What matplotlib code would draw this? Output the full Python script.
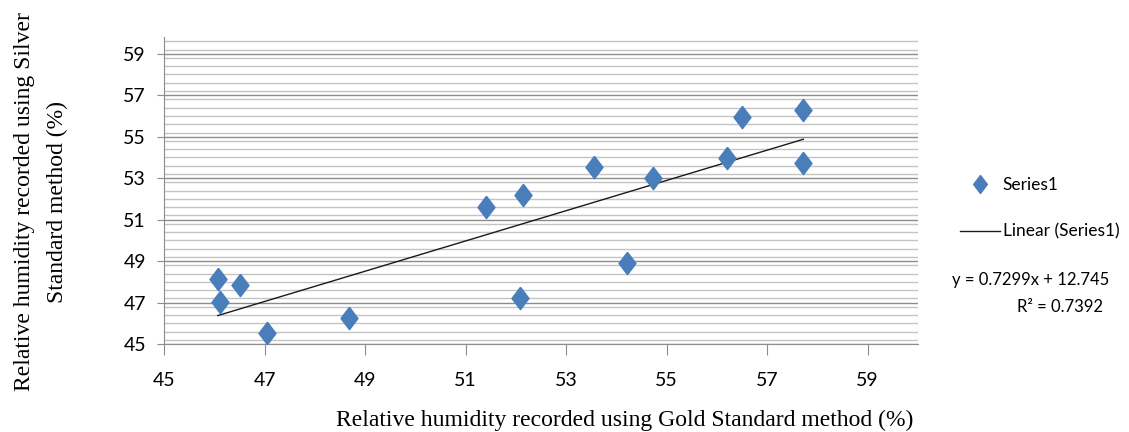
import numpy as np
import matplotlib
matplotlib.use("Agg")
import matplotlib.pyplot as plt
from matplotlib.lines import Line2D
from matplotlib.ticker import MultipleLocator

# Data
gold = [46.07, 46.12, 46.51, 47.05, 48.68, 51.40, 52.15, 52.09,
        54.22, 53.55, 54.73, 56.21, 56.50, 57.71, 57.72]
silver = [48.12, 47.04, 47.85, 45.52, 46.27, 51.60, 52.20, 47.24,
          48.93, 53.52, 53.03, 53.97, 55.93, 56.29, 53.74]
slope = 0.7299
intercept = 12.745
r2 = 0.7392

narrow = ['Lato', 'DejaVu Sans']
serif = ['Liberation Serif', 'DejaVu Serif']
blue = '#4A7EBB'

# diamond marker, taller than wide
diamond = [(0, 1), (0.76, 0), (0, -1), (-0.76, 0), (0, 1)]

fig = plt.figure(figsize=(11.29, 4.32), dpi=100)
ax = fig.add_axes([0.1453, 0.2037, 0.813 - 0.1453, 0.914 - 0.2037])

ax.scatter(gold, silver, marker=diamond, s=260, color=blue, zorder=3)

xs = np.array([min(gold), max(gold)])
ax.plot(xs, slope * xs + intercept, color='#1a1a1a', lw=1.0, zorder=2)

ax.set_xlim(45, 60)
ax.set_ylim(45, 59.8)
ax.set_xticks(np.arange(45, 60, 2))
ax.set_yticks(np.arange(45, 60, 2))
ax.yaxis.set_minor_locator(MultipleLocator(0.4))
ax.grid(axis='y', which='major', color='#8c8c8c', lw=1.0)
ax.grid(axis='y', which='minor', color='#c4c4c4', lw=1.0)
ax.set_axisbelow(True)

for s in ['top', 'right']:
    ax.spines[s].set_visible(False)
for s in ['left', 'bottom']:
    ax.spines[s].set_color('#8c8c8c')
ax.tick_params(axis='x', which='major', length=8, color='#8c8c8c', labelsize=14, pad=12)
ax.tick_params(axis='y', which='major', length=5, color='#8c8c8c', labelsize=14, pad=8)
ax.tick_params(axis='y', which='minor', length=0)
for lab in ax.get_xticklabels() + ax.get_yticklabels():
    lab.set_family(narrow)

fig.text(625 / 1129, 1 - 420 / 432, 'Relative humidity recorded using Gold Standard method (%)',
         family=serif, fontsize=17, ha='center', va='center')
fig.text(41 / 1129, 1 - 202 / 432,
         'Relative humidity recorded using Silver\nStandard method (%)',
         family=serif, fontsize=17, ha='center', va='center', rotation=90,
         multialignment='center', linespacing=1.75)

handles = [Line2D([], [], ls='none', marker=diamond, ms=13, color=blue),
           Line2D([], [], color='#1a1a1a', lw=1.0)]
leg = fig.legend(handles, ['Series1', 'Linear (Series1)'], loc='upper left',
                 bbox_to_anchor=(948 / 1129, 1 - 165 / 432), frameon=False,
                 prop={'family': narrow, 'size': 12.5}, handlelength=2.3,
                 handletextpad=0.15, labelspacing=1.75, borderpad=0.2)

fig.text(1031 / 1129, 1 - 280 / 432, 'y = %.4fx + %.3f' % (slope, intercept),
         family=narrow, fontsize=12, ha='center', va='center')
fig.text(1060 / 1129, 1 - 307 / 432, 'R² = %.4f' % r2,
         family=narrow, fontsize=12, ha='center', va='center')

fig.savefig('out.png', dpi=100)
